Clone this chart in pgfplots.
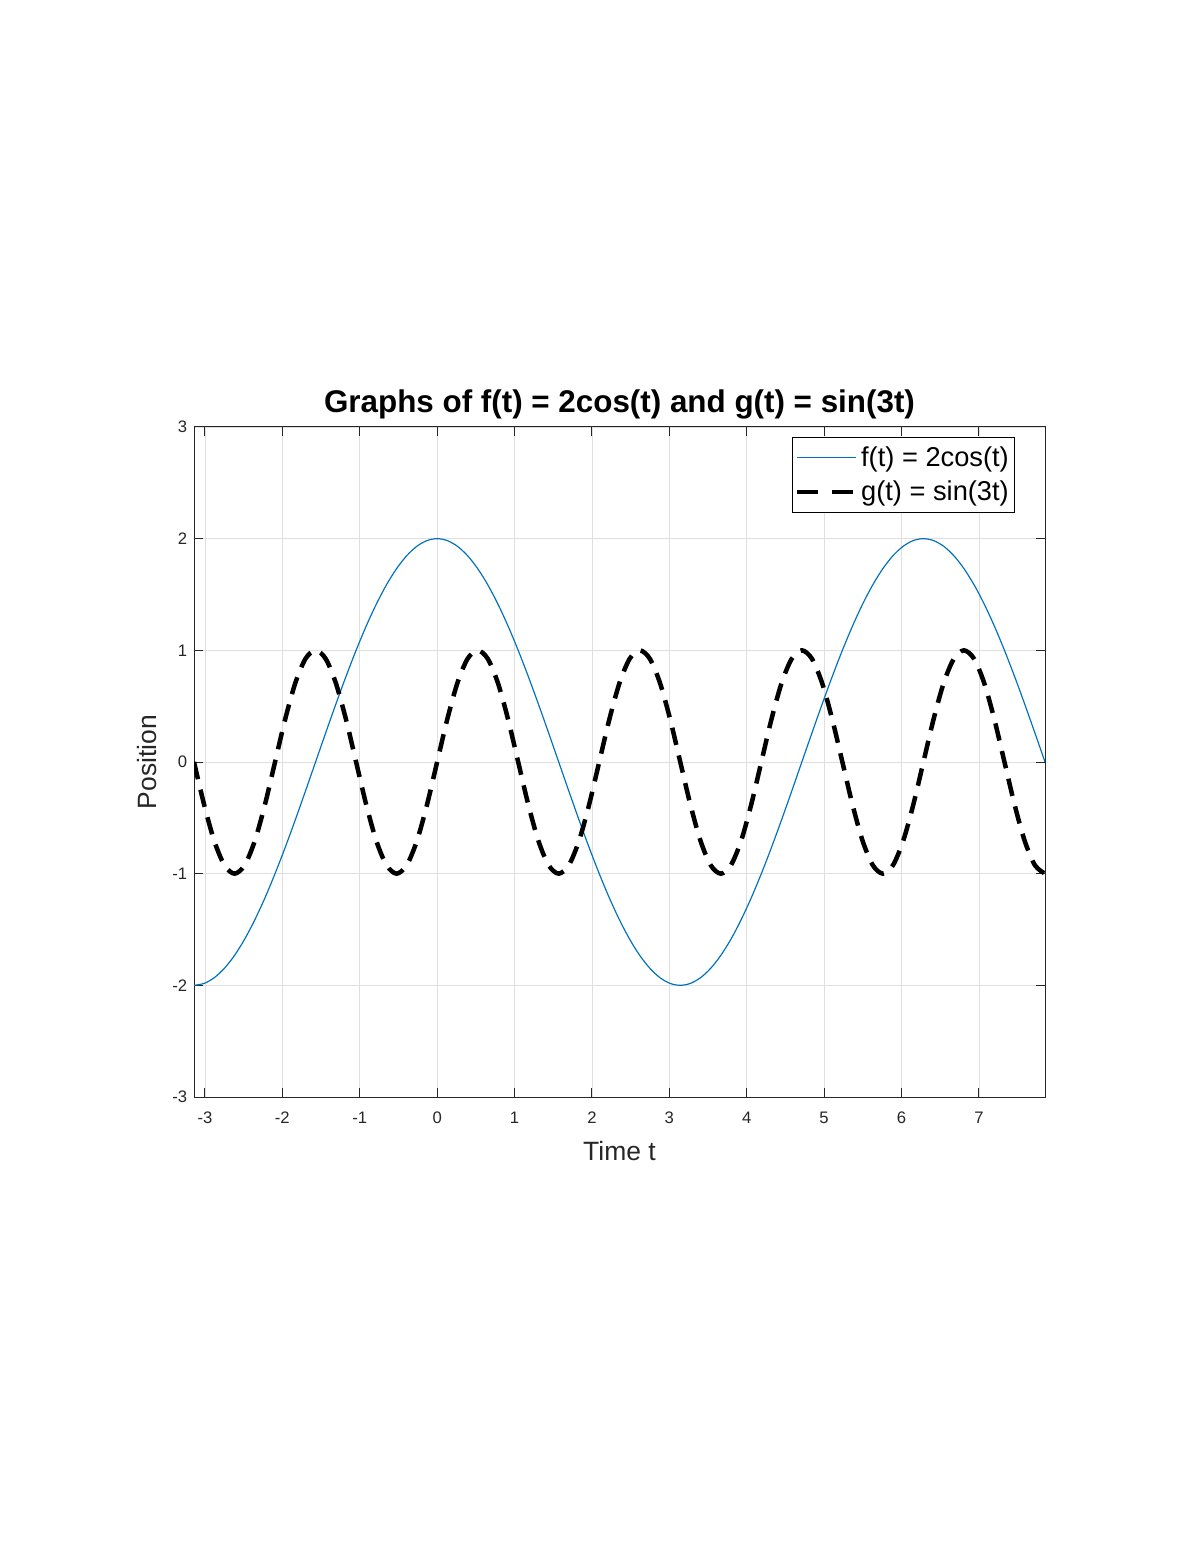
\documentclass[border=0pt]{standalone}
\usepackage{fontspec}
\setmainfont{Liberation Sans}
\usepackage{pgfplots}
\usepackage{pgfplotstable}
\pgfplotsset{compat=1.18}
\definecolor{mblue}{RGB}{0,114,189}
\definecolor{axgray}{RGB}{38,38,38}
\definecolor{gridgray}{RGB}{223,223,223}

\pgfplotsset{
  fleg/.style={legend image code/.code={\draw[##1] (0pt,0pt) -- (30pt,0pt);}},
  gleg/.style={legend image code/.code={\draw[##1, dash pattern=on 10.5pt off 7.5pt] (0pt,0pt) -- (29.5pt,0pt);}},
}

% t, f(t)=2cos(t), g(t)=sin(3t), sampled every pi/24
\pgfplotstableread{
t f g
-3.1416 -2 0
-3.0107 -1.98289 -0.38268
-2.8798 -1.93185 -0.70711
-2.7489 -1.84776 -0.92388
-2.6180 -1.73205 -1
-2.4871 -1.58671 -0.92388
-2.3562 -1.41421 -0.70711
-2.2253 -1.21752 -0.38268
-2.0944 -1 0
-1.9635 -0.76537 0.38268
-1.8326 -0.51764 0.70711
-1.7017 -0.26105 0.92388
-1.5708 0 1
-1.4399 0.26105 0.92388
-1.3090 0.51764 0.70711
-1.1781 0.76537 0.38268
-1.0472 1 0
-0.9163 1.21752 -0.38268
-0.7854 1.41421 -0.70711
-0.6545 1.58671 -0.92388
-0.5236 1.73205 -1
-0.3927 1.84776 -0.92388
-0.2618 1.93185 -0.70711
-0.1309 1.98289 -0.38268
0 2 0
0.1309 1.98289 0.38268
0.2618 1.93185 0.70711
0.3927 1.84776 0.92388
0.5236 1.73205 1
0.6545 1.58671 0.92388
0.7854 1.41421 0.70711
0.9163 1.21752 0.38268
1.0472 1 0
1.1781 0.76537 -0.38268
1.3090 0.51764 -0.70711
1.4399 0.26105 -0.92388
1.5708 0 -1
1.7017 -0.26105 -0.92388
1.8326 -0.51764 -0.70711
1.9635 -0.76537 -0.38268
2.0944 -1 0
2.2253 -1.21752 0.38268
2.3562 -1.41421 0.70711
2.4871 -1.58671 0.92388
2.6180 -1.73205 1
2.7489 -1.84776 0.92388
2.8798 -1.93185 0.70711
3.0107 -1.98289 0.38268
3.1416 -2 0
3.2725 -1.98289 -0.38268
3.4034 -1.93185 -0.70711
3.5343 -1.84776 -0.92388
3.6652 -1.73205 -1
3.7961 -1.58671 -0.92388
3.9270 -1.41421 -0.70711
4.0579 -1.21752 -0.38268
4.1888 -1 0
4.3197 -0.76537 0.38268
4.4506 -0.51764 0.70711
4.5815 -0.26105 0.92388
4.7124 0 1
4.8433 0.26105 0.92388
4.9742 0.51764 0.70711
5.1051 0.76537 0.38268
5.2360 1 0
5.3669 1.21752 -0.38268
5.4978 1.41421 -0.70711
5.6287 1.58671 -0.92388
5.7596 1.73205 -1
5.8905 1.84776 -0.92388
6.0214 1.93185 -0.70711
6.1523 1.98289 -0.38268
6.2832 2 0
6.4141 1.98289 0.38268
6.5450 1.93185 0.70711
6.6759 1.84776 0.92388
6.8068 1.73205 1
6.9377 1.58671 0.92388
7.0686 1.41421 0.70711
7.1995 1.21752 0.38268
7.3304 1 0
7.4613 0.76537 -0.38268
7.5922 0.51764 -0.70711
7.7231 0.26105 -0.92388
7.8540 0 -1
}\curves

\begin{document}
\begin{tikzpicture}
\begin{axis}[
  scale only axis,
  width=434pt, height=341.7pt,
  xmin=-3.14159, xmax=7.85398,
  ymin=-3, ymax=3,
  xtick={-3,...,7}, xticklabels={-3,-2,-1,0,1,2,3,4,5,6,7},
  ytick={-3,...,3}, yticklabels={-3,-2,-1,0,1,2,3},
  tick align=inside, tick pos=both,
  major tick length=4.5pt,
  grid=major,
  grid style={gridgray, line width=0.4pt},
  axis line style={axgray, line width=0.5pt},
  every tick/.style={axgray, line width=0.5pt},
  tick label style={font=\fontsize{8.5}{10}\selectfont, text=axgray},
  xticklabel style={yshift=-4pt},
  title={Graphs of f(t) = 2cos(t) and g(t) = sin(3t)},
  title style={font=\bfseries\fontsize{16}{19}\selectfont, at={(0.5,1.0209)}, anchor=base, yshift=-6pt},
  xlabel={Time t},
  xlabel style={font=\fontsize{13.5}{16}\selectfont, text=axgray, at={(0.5,-0.0806)}, anchor=center},
  ylabel={Position},
  ylabel style={font=\fontsize{13.5}{16}\selectfont, text=axgray, at={(-0.0552,0.5)}, anchor=center},
  legend style={at={(0.965,0.985)}, anchor=north east, draw=black, line width=0.5pt,
    fill=white, font=\fontsize{13.9}{16.8}\selectfont, inner xsep=1pt, inner ysep=2.5pt, row sep=2pt},
  legend cell align=left,
]
\addplot[mblue, line width=0.6pt, smooth, fleg] table[x=t, y=f] {\curves};
\addlegendentry{f(t) = 2cos(t)}
\addplot[black, line width=2.3pt, smooth, dash pattern=on 9pt off 5.5pt, gleg] table[x=t, y=g] {\curves};
\addlegendentry{g(t) = sin(3t)}
\end{axis}
\useasboundingbox ([shift={(-98.94pt,-232.56pt)}]current axis.south west)
  rectangle ([shift={(79.05pt,217.77pt)}]current axis.north east);
\end{tikzpicture}
\end{document}
